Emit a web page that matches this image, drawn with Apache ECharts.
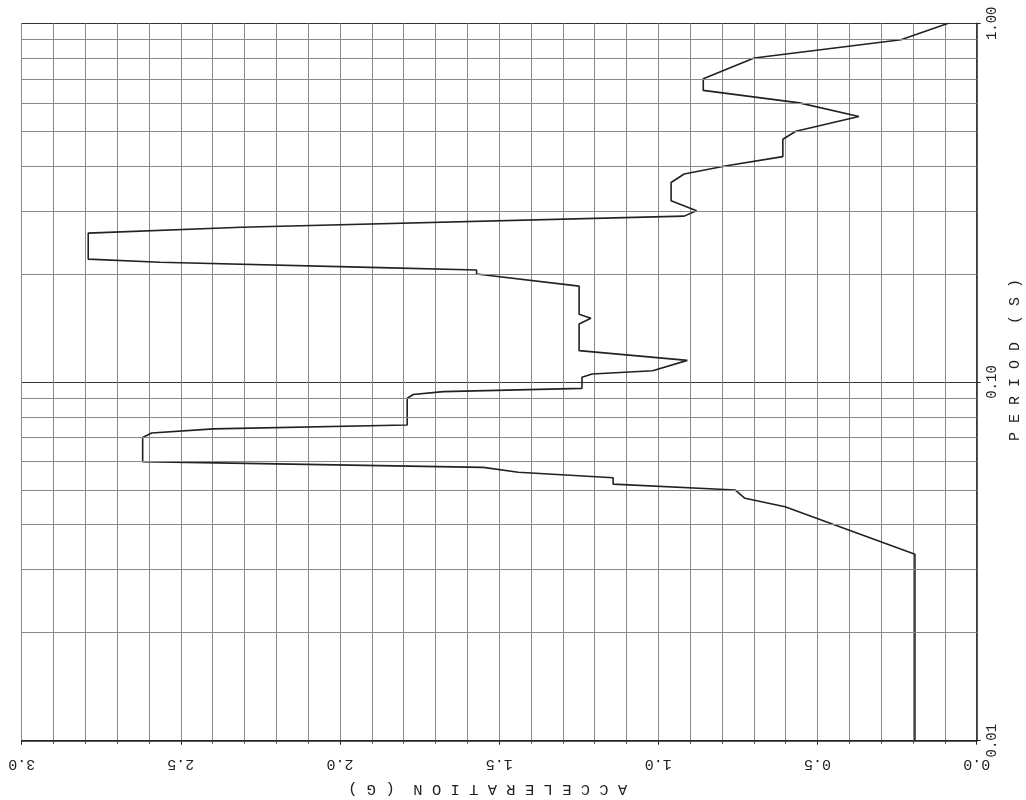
<!DOCTYPE html>
<html>
<head>
<meta charset="utf-8">
<script src="https://cdn.jsdelivr.net/npm/echarts@6/dist/echarts.min.js"></script>
<style>html,body{margin:0;padding:0;background:#fff;overflow:hidden}#c{width:1026px;height:800px}</style>
</head>
<body>
<div id="c"></div>
<script>
// Spectral acceleration (G) versus period (S), traced from top (T=1.0) to bottom (T=0.01)
const accelG = [0.089,0.238,0.699,0.859,0.859,0.557,0.370,0.568,0.609,0.609,
  0.790,0.919,0.960,0.960,0.880,0.919,2.31,2.791,2.791,2.566,
  1.874,1.571,1.571,1.249,1.249,1.212,1.249,1.249,0.909,1.018,
  1.208,1.240,1.240,1.676,1.770,1.789,1.789,2.398,2.592,2.620,
  2.620,1.550,1.440,1.142,1.142,0.759,0.728,0.602,0.194,0.194];
const periodS = [1.00,0.90,0.80,0.70,0.65,0.60,0.55,0.50,0.475,0.425,
  0.40,0.38,0.36,0.32,0.30,0.29,0.27,0.26,0.22,0.2156,
  0.2084,0.2053,0.200,0.185,0.1544,0.1505,0.1451,0.1223,0.1149,0.1075,
  0.1053,0.1031,0.0960,0.0940,0.0923,0.0901,0.0759,0.0740,0.0721,0.0700,
  0.0600,0.0578,0.0560,0.0541,0.0519,0.0500,0.0474,0.0449,0.0331,0.01];
const minorPeriods = [0.02,0.03,0.04,0.05,0.06,0.07,0.08,0.09,0.2,0.3,0.4,0.5,0.6,0.7,0.8,0.9];
const xName = 'A C C E L E R A T I O N  ( G )';
const yName = 'P E R I O D  ( S )';

const FONT = 'Liberation Mono';
const chart = echarts.init(document.getElementById('c'), null, {renderer:'canvas'});
const pts = accelG.map((g,i)=>[g, periodS[i]]);

chart.setOption({
  animation:false,
  backgroundColor:'#fff',
  grid:{left:21.7, right:49.3, top:23.3, bottom:59.3, containLabel:false, outerBoundsMode:'none'},
  xAxis:{
    type:'value', min:0, max:3, interval:0.5, inverse:true, position:'bottom',
    axisLine:{onZero:false, lineStyle:{color:'#222', width:1.5}},
    axisTick:{show:true, length:4, lineStyle:{color:'#222'}},
    minorTick:{show:true, splitNumber:5, length:3, lineStyle:{color:'#444'}},
    splitLine:{show:true, lineStyle:{color:'#888', width:1}},
    minorSplitLine:{show:true, lineStyle:{color:'#888', width:1}},
    axisLabel:{rotate:180, margin:16, fontFamily:FONT, fontSize:15, color:'#222',
      formatter:v=>v.toFixed(1)},
    name:xName, nameLocation:'middle', nameRotate:180, nameGap:40,
    nameTextStyle:{fontFamily:FONT, fontSize:15.5, color:'#222', padding:[0,0,0,23]}
  },
  yAxis:{
    type:'log', logBase:10, min:0.01, max:1, position:'right',
    axisLine:{show:true, onZero:false, lineStyle:{color:'#222', width:1.5}},
    axisTick:{show:true, length:4, inside:false, lineStyle:{color:'#222'}},
    splitLine:{show:true, lineStyle:{color:'#333', width:1}},
    axisLabel:{rotate:90, margin:9, fontFamily:FONT, fontSize:14, color:'#222',
      formatter:v=>Number(v).toFixed(2)},
    name:yName, nameLocation:'middle', nameGap:26,
    nameTextStyle:{fontFamily:FONT, fontSize:15, color:'#222', padding:[0,0,0,44]}
  },
  series:[
    {
      type:'line', data:[], z:1, silent:true,
      markLine:{
        silent:true, symbol:['none','none'], label:{show:false},
        lineStyle:{color:'#888', width:1, type:'solid'},
        emphasis:{disabled:true},
        data:minorPeriods.map(v=>({yAxis:v}))
      }
    },
    {
      type:'line', data:pts, z:3, symbol:'none', smooth:false,
      lineStyle:{color:'#222', width:1.6}
    }
  ]
});
</script>
</body>
</html>
